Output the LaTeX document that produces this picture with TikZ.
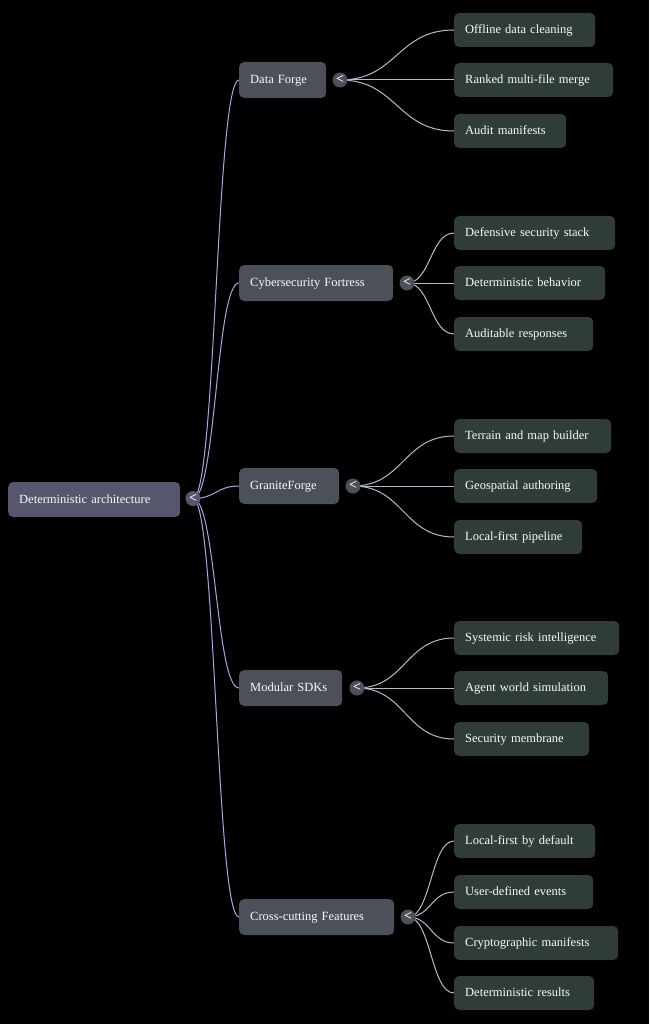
\documentclass[tikz,border=0pt]{standalone}
\usepackage{fontspec}
\setmainfont{Liberation Serif}
\usetikzlibrary{calc}
\definecolor{bg}{HTML}{000000}
\definecolor{rootfill}{HTML}{56566C}
\definecolor{midfill}{HTML}{4B5059}
\definecolor{leaffill}{HTML}{2F3C39}
\definecolor{txt}{HTML}{FAFAFA}
\definecolor{lineA}{HTML}{A8A8E6}
\definecolor{lineB}{HTML}{B4BBC9}
\begin{document}
\begin{tikzpicture}[x=1pt,y=-1pt,
  base/.style={rounded corners=5pt, text=txt, font=\fontsize{12.5}{14}\selectfont,
    anchor=west, inner xsep=11pt, inner ysep=0pt, align=left, text width=#1pt,
    text height=9pt, text depth=2pt},
  rootbox/.style={base=#1, fill=rootfill, minimum height=35pt},
  midbox/.style={base=#1, fill=midfill, minimum height=36pt},
  leafbox/.style={base=#1, fill=leaffill, minimum height=34pt},
  toggle/.style={circle, fill=midfill, text=txt, inner sep=0pt, minimum size=15pt,
    font=\fontsize{14}{14}\selectfont\bfseries},
  roottoggle/.style={toggle, fill=rootfill},
  linkA/.style={draw=lineA, line width=1pt},
  linkB/.style={draw=lineB, line width=1pt}]
\useasboundingbox[fill=bg] (0,0) rectangle (649,1024);

% root
\node[rootbox=150] (root) at (8,499.5) {Deterministic architecture};
\coordinate (tr) at (193,498.5);

% level 1
\node[midbox=65] (df) at (239,80) {Data Forge};
\coordinate (tdf) at (340,80);
\node[midbox=132] (cf) at (239,283) {Cybersecurity Fortress};
\coordinate (tcf) at (407,283);
\node[midbox=78] (gf) at (239,486) {GraniteForge};
\coordinate (tgf) at (353,486);
\node[midbox=81] (ms) at (239,688) {Modular SDKs};
\coordinate (tms) at (357,688);
\node[midbox=133] (cc) at (239,917) {Cross-cutting Features};
\coordinate (tcc) at (408,917);

% leaves
\node[leafbox=119] (a1) at (454,30) {Offline data cleaning};
\node[leafbox=137] (a2) at (454,80) {Ranked multi-file merge};
\node[leafbox=90]  (a3) at (454,131) {Audit manifests};
\node[leafbox=139] (b1) at (454,233) {Defensive security stack};
\node[leafbox=129] (b2) at (454,283) {Deterministic behavior};
\node[leafbox=117] (b3) at (454,334) {Auditable responses};
\node[leafbox=135] (c1) at (454,436) {Terrain and map builder};
\node[leafbox=121] (c2) at (454,486) {Geospatial authoring};
\node[leafbox=106] (c3) at (454,537) {Local-first pipeline};
\node[leafbox=143] (d1) at (454,638) {Systemic risk intelligence};
\node[leafbox=132] (d2) at (454,688) {Agent world simulation};
\node[leafbox=113] (d3) at (454,739) {Security membrane};
\node[leafbox=119] (e1) at (454,841) {Local-first by default};
\node[leafbox=117] (e2) at (454,892) {User-defined events};
\node[leafbox=142] (e3) at (454,943) {Cryptographic manifests};
\node[leafbox=118] (e4) at (454,993) {Deterministic results};

% connectors
\foreach \s/\t in {tr/df, tr/cf, tr/gf, tr/ms, tr/cc}
  \draw[linkA] let \p1=(\s), \p2=(\t.west) in
    (\p1) .. controls ({(\x1+\x2)/2},\y1) and ({(\x1+\x2)/2},\y2) .. (\p2);
\foreach \s/\t in {tdf/a1, tdf/a2, tdf/a3, tcf/b1, tcf/b2, tcf/b3,
                   tgf/c1, tgf/c2, tgf/c3, tms/d1, tms/d2, tms/d3,
                   tcc/e1, tcc/e2, tcc/e3, tcc/e4}
  \draw[linkB] let \p1=(\s), \p2=(\t.west) in
    (\p1) .. controls ({(\x1+\x2)/2},\y1) and ({(\x1+\x2)/2},\y2) .. (\p2);

% toggles
\node[roottoggle] (ktr) at (tr) {\raisebox{0.5pt}{<}};
\node[toggle] (kdf) at (tdf) {\raisebox{0.5pt}{<}};
\node[toggle] (kcf) at (tcf) {\raisebox{0.5pt}{<}};
\node[toggle] (kgf) at (tgf) {\raisebox{0.5pt}{<}};
\node[toggle] (kms) at (tms) {\raisebox{0.5pt}{<}};
\node[toggle] (kcc) at (tcc) {\raisebox{0.5pt}{<}};
\end{tikzpicture}
\end{document}
